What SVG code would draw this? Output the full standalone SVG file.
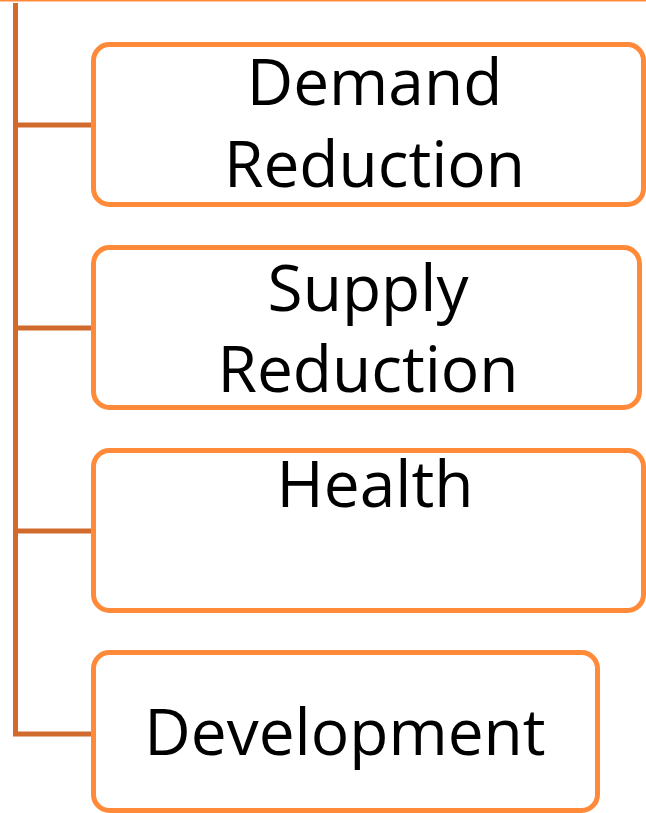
<svg xmlns="http://www.w3.org/2000/svg" width="646" height="813" viewBox="0 0 646 813">
<style>
.box{fill:#FFFFFF;stroke:#FF8A3A;stroke-width:5}
.lbl{font-family:"Open Sans","Noto Sans",sans-serif;font-size:64px;fill:#000000;text-anchor:middle}
.conn{stroke:#D06B2D;stroke-width:5;fill:none}
</style>
<rect x="0" y="0" width="646" height="813" fill="#FFFFFF"/>
<rect x="0" y="0" width="646" height="1.5" fill="#FF8A3A"/>
<g id="connectors">
<path class="conn" d="M15.5 3 V734 H93"/>
<path class="conn" d="M15.5 125 H93"/>
<path class="conn" d="M15.5 328 H93"/>
<path class="conn" d="M15.5 531 H93"/>
</g>
<g id="node-demand">
<rect class="box" x="93.5" y="44.5" width="550" height="160" rx="16"/>
<text class="lbl" x="374.5" y="105">Demand</text>
<text class="lbl" x="374.5" y="187">Reduction</text>
</g>
<g id="node-supply">
<rect class="box" x="93.5" y="247.5" width="546" height="160" rx="16"/>
<text class="lbl" x="368" y="311">Supply</text>
<text class="lbl" x="368" y="392">Reduction</text>
</g>
<g id="node-health">
<rect class="box" x="93.5" y="450.5" width="550" height="160" rx="16"/>
<text class="lbl" x="375" y="507">Health</text>
</g>
<g id="node-development">
<rect class="box" x="93.5" y="652.5" width="504" height="158" rx="16"/>
<text class="lbl" x="345" y="755">Development</text>
</g>
</svg>
